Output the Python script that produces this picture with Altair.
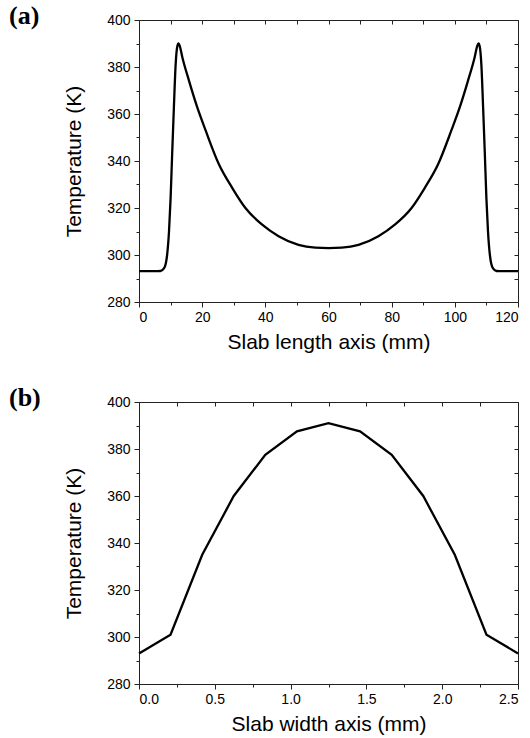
import altair as alt
import pandas as pd

# Panel (a): temperature along slab length
len_x = [0, 5, 6.8, 7.9, 8.5, 8.9, 9.5, 10.0, 10.5, 11.05, 11.6, 12.1, 12.5, 12.9,
         13.7, 15.8, 18.4, 21.1, 25.3, 29.5, 33.7, 38.9, 44.2, 50.5, 55.8, 60,
         64.2, 69.5, 75.8, 81.1, 86.3, 90.5, 94.7, 98.9, 101.6, 104.2, 106.3,
         107.1, 107.5, 107.9, 108.4, 108.95, 109.5, 110, 110.5, 111.1, 111.5,
         112.1, 113.2, 115, 120]
len_t = [293.1, 293.1, 293.2, 294.3, 296.5, 300, 310, 324, 343, 363, 381, 388.6, 390, 389,
         384.3, 374.3, 363, 353, 338.6, 328.6, 320, 313, 308, 304.3, 303.1, 302.9,
         303.1, 304.3, 308, 313, 320, 328.6, 338.6, 353, 363, 374.3, 384.3,
         389, 390, 388.6, 381, 363, 343, 324, 310, 300, 296.5,
         294.3, 293.2, 293.1, 293.1]

# Panel (b): temperature along slab width
wid_x = [0, 0.208, 0.417, 0.625, 0.833, 1.042, 1.25, 1.458, 1.667, 1.875, 2.083, 2.292, 2.5]
wid_t = [293, 301, 335, 360, 377.5, 387.5, 391, 387.5, 377.5, 360, 335, 301, 293]

# Tick values
a_x_major = [0, 20, 40, 60, 80, 100, 120]
a_x_minor = [10, 30, 50, 70, 90, 110]
a_x_all = [0, 10, 20, 30, 40, 50, 60, 70, 80, 90, 100, 110, 120]
b_x_major = [0.0, 0.5, 1.0, 1.5, 2.0, 2.5]
b_x_minor = [0.25, 0.75, 1.25, 1.75, 2.25]
b_x_all = [0.0, 0.25, 0.5, 0.75, 1.0, 1.25, 1.5, 1.75, 2.0, 2.25, 2.5]
y_major = [280, 300, 320, 340, 360, 380, 400]
y_minor = [290, 310, 330, 350, 370, 390]
y_all = [280, 290, 300, 310, 320, 330, 340, 350, 360, 370, 380, 390, 400]

SANS = "Liberation Sans"
SERIF = "Liberation Serif"
W, H = 379, 282


def panel(df, xmax, xmaj, xmin, xall, fmt, xtitle, tag, interp):
    xs = alt.Scale(domain=[0, xmax], nice=False, zero=False)
    ys = alt.Scale(domain=[280, 400], nice=False, zero=False)
    base = alt.Chart(df)
    edges = base.mark_line(strokeOpacity=0).encode(
        x=alt.X("x:Q", scale=xs, axis=alt.Axis(orient="top", values=xall, tickSize=4, offset=-4,
                                                labels=False, domain=False, grid=False, title=None)),
        y=alt.Y("t:Q", scale=ys, axis=alt.Axis(orient="right", values=y_all, tickSize=4, offset=-4,
                                                labels=False, domain=False, grid=False, title=None)),
    )
    minor = base.mark_line(strokeOpacity=0).encode(
        x=alt.X("x:Q", scale=xs, axis=alt.Axis(orient="bottom", values=xmin, tickSize=3,
                                                labels=False, domain=False, grid=False, title=None)),
        y=alt.Y("t:Q", scale=ys, axis=alt.Axis(orient="left", values=y_minor, tickSize=3,
                                                labels=False, domain=False, grid=False, title=None)),
    )
    main = base.mark_line(color="black", strokeWidth=2.3, interpolate=interp).encode(
        x=alt.X("x:Q", scale=xs, axis=alt.Axis(orient="bottom", values=xmaj, format=fmt, tickSize=5,
                                                labelPadding=3, grid=False, title=xtitle,
                                                titlePadding=7)),
        y=alt.Y("t:Q", scale=ys, axis=alt.Axis(orient="left", values=y_major, format="d", tickSize=5,
                                                labelPadding=4, grid=False, title="Temperature (K)",
                                                titlePadding=22)),
    )
    return alt.layer(edges, minor, main).resolve_axis(
        x="independent", y="independent"
    ).properties(
        width=W, height=H,
        title=alt.TitleParams(tag, anchor="start", frame="group", font=SERIF, fontSize=26,
                              fontWeight="bold", color="black", dx=-130, offset=0,
                              baseline="alphabetic", dy=37),
    )


df_a = pd.DataFrame({"x": len_x, "t": len_t})
df_b = pd.DataFrame({"x": wid_x, "t": wid_t})

pa = panel(df_a, 120, a_x_major, a_x_minor, a_x_all, "d", "Slab length axis (mm)", "(a)", "monotone")
pb = panel(df_b, 2.5, b_x_major, b_x_minor, b_x_all, ".1f", "Slab width axis (mm)", "(b)", "linear")

chart = alt.vconcat(pa, pb, spacing=100, bounds="flush").properties(
    padding={"left": 8, "top": 2, "right": 3, "bottom": 3},
    background="white",
).configure_view(
    stroke="#222222", strokeWidth=1
).configure_axis(
    labelFont=SANS, labelFontSize=14, labelColor="black",
    titleFont=SANS, titleFontSize=21, titleFontWeight="normal", titleColor="black",
    tickColor="#222222", domainColor="#222222", tickWidth=1, domainWidth=1,
)

chart.save("out.html", embed_options={"renderer": "svg", "actions": False})
